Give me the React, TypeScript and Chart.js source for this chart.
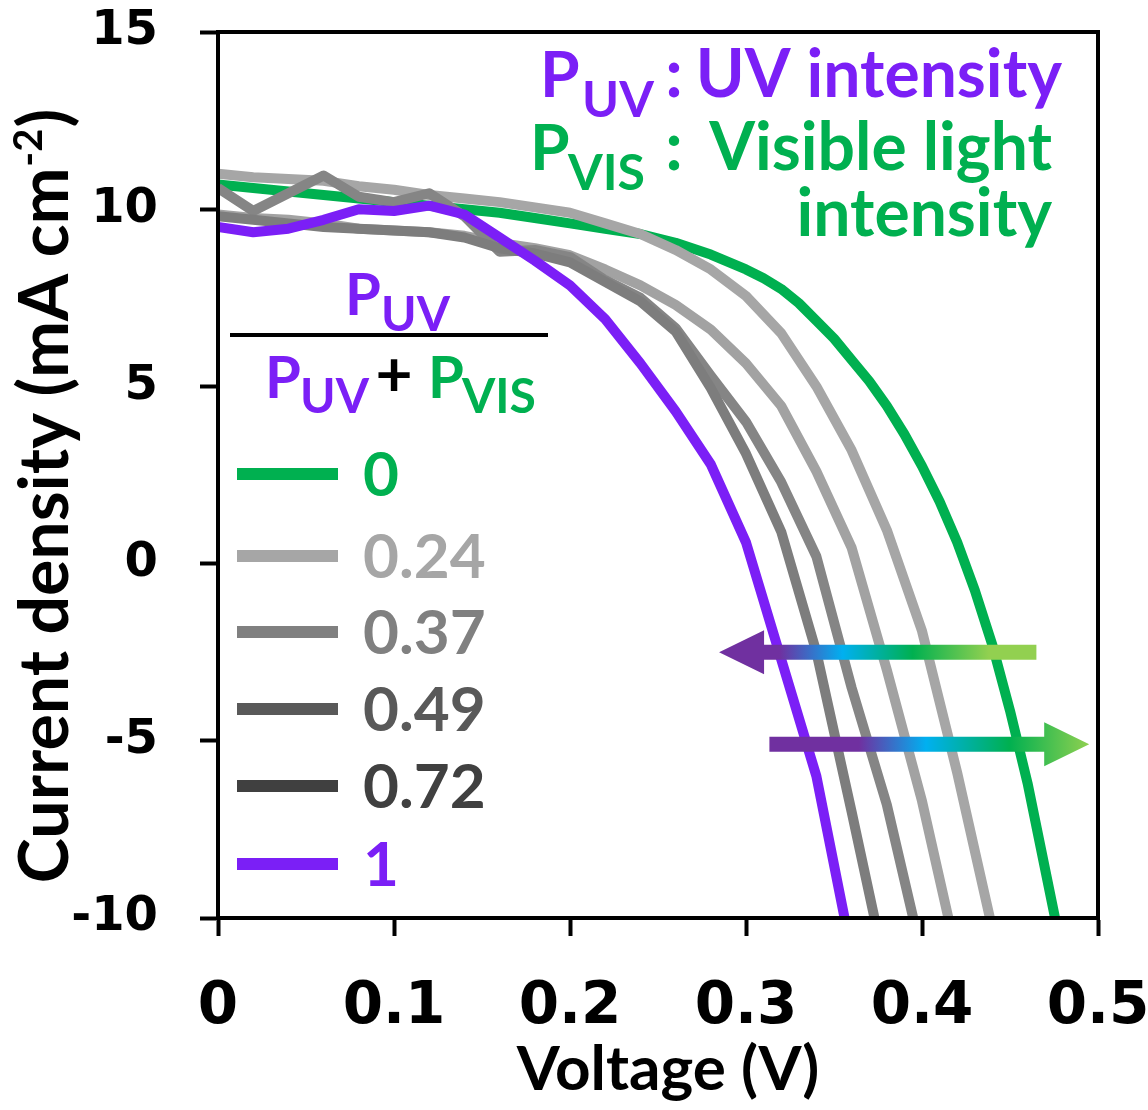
import React, { useEffect, useRef } from "react";
import { Chart, registerables } from "chart.js";

Chart.register(...registerables);

// ---- data (Voltage in V, current density in mA cm^-2) ----
const ratioLabels = ["0", "0.24", "0.37", "0.49", "0.72", "1"];

const v_0 = [0, 0.02, 0.04, 0.06, 0.08, 0.1, 0.12, 0.14, 0.16, 0.18, 0.2, 0.22, 0.24, 0.26, 0.28, 0.3, 0.31, 0.32, 0.33, 0.34, 0.35, 0.36, 0.37, 0.38, 0.39, 0.4, 0.41, 0.42, 0.43, 0.44, 0.45, 0.46, 0.4756];
const j_0 = [10.7, 10.6, 10.5, 10.4, 10.3, 10.2, 10.1, 10.0, 9.9, 9.75, 9.6, 9.45, 9.3, 9.05, 8.72, 8.3, 8.05, 7.75, 7.35, 6.85, 6.35, 5.75, 5.15, 4.45, 3.65, 2.75, 1.75, 0.6, -0.75, -2.3, -4.15, -6.2, -10];

const v_024 = [0, 0.02, 0.04, 0.06, 0.08, 0.1, 0.12, 0.14, 0.16, 0.18, 0.2, 0.22, 0.24, 0.26, 0.28, 0.3, 0.32, 0.34, 0.36, 0.38, 0.4, 0.42, 0.4386];
const j_024 = [11.0, 10.9, 10.85, 10.8, 10.65, 10.55, 10.4, 10.3, 10.2, 10.05, 9.9, 9.6, 9.3, 8.85, 8.3, 7.55, 6.5, 5.0, 3.2, 0.95, -1.9, -5.9, -10];

const v_037 = [0, 0.02, 0.04, 0.06, 0.08, 0.1, 0.12, 0.14, 0.16, 0.18, 0.2, 0.22, 0.24, 0.26, 0.28, 0.3, 0.32, 0.34, 0.36, 0.38, 0.4, 0.415];
const j_037 = [9.85, 9.75, 9.7, 9.6, 9.45, 9.4, 9.35, 9.25, 9.05, 8.9, 8.7, 8.3, 7.85, 7.3, 6.6, 5.65, 4.45, 2.6, 0.45, -3.0, -6.7, -10];

const v_049 = [0, 0.02, 0.04, 0.06, 0.08, 0.1, 0.12, 0.14, 0.16, 0.18, 0.2, 0.22, 0.24, 0.26, 0.28, 0.3, 0.32, 0.34, 0.36, 0.38, 0.395];
const j_049 = [10.6, 9.95, 10.45, 10.95, 10.35, 10.2, 10.45, 9.8, 8.8, 8.85, 8.65, 8.0, 7.5, 6.65, 5.3, 4.0, 2.3, 0.2, -3.5, -6.8, -10];

const v_072 = [0, 0.02, 0.04, 0.06, 0.08, 0.1, 0.12, 0.14, 0.16, 0.18, 0.2, 0.22, 0.24, 0.26, 0.28, 0.3, 0.32, 0.34, 0.36, 0.373];
const j_072 = [9.8, 9.7, 9.6, 9.5, 9.45, 9.4, 9.35, 9.2, 8.9, 8.75, 8.5, 7.95, 7.4, 6.55, 4.95, 3.1, 0.9, -2.5, -7.0, -10];

const v_1 = [0, 0.02, 0.04, 0.06, 0.08, 0.1, 0.12, 0.14, 0.16, 0.18, 0.2, 0.22, 0.24, 0.26, 0.28, 0.3, 0.32, 0.34, 0.356];
const j_1 = [9.5, 9.35, 9.45, 9.7, 10.0, 9.95, 10.1, 9.85, 9.2, 8.55, 7.85, 6.9, 5.65, 4.3, 2.8, 0.6, -2.7, -6.0, -10];

const xTickLabels = ["0", "0.1", "0.2", "0.3", "0.4", "0.5"];
const yTickLabels = ["-10", "-5", "0", "5", "10", "15"];

// ---- styles ----
const PURPLE = "#7b1ff6";
const GREEN = "#00b050";
const LATO = "Lato, 'Open Sans', 'DejaVu Sans', sans-serif";
const TICKFONT = "'DejaVu Sans', Verdana, sans-serif";

const lineColors = [GREEN, "#a6a6a6", "#a2a2a2", "#858585", "#7d7d7d", PURPLE];
const legendColors = [GREEN, "#a6a6a6", "#808080", "#595959", "#404040", PURPLE];

const seriesV = [v_0, v_024, v_037, v_049, v_072, v_1];
const seriesJ = [j_0, j_024, j_037, j_049, j_072, j_1];

function txt(ctx: CanvasRenderingContext2D, s: string, x: number, y: number, size: number, color: string, align: CanvasTextAlign = "left") {
  ctx.font = `bold ${size}px ${LATO}`;
  ctx.fillStyle = color;
  ctx.textAlign = align;
  ctx.textBaseline = "alphabetic";
  ctx.fillText(s, x, y);
}

function arrow(ctx: CanvasRenderingContext2D, xTip: number, xTail: number, y: number, stops: [number, string][]) {
  const shaft = 15, headLen = 45, headHalf = 22;
  const dir = xTip < xTail ? 1 : -1;
  const left = Math.min(xTip, xTail), right = Math.max(xTip, xTail);
  const g = ctx.createLinearGradient(left, 0, right, 0);
  stops.forEach(([o, c]) => g.addColorStop(o, c));
  const hb = xTip + dir * headLen;
  ctx.beginPath();
  ctx.moveTo(xTip, y);
  ctx.lineTo(hb, y - headHalf);
  ctx.lineTo(hb, y - shaft / 2);
  ctx.lineTo(xTail, y - shaft / 2);
  ctx.lineTo(xTail, y + shaft / 2);
  ctx.lineTo(hb, y + shaft / 2);
  ctx.lineTo(hb, y + headHalf);
  ctx.closePath();
  ctx.fillStyle = g;
  ctx.fill();
}

const annotPlugin = {
  id: "annot",
  afterDatasetsDraw(chart: any) {
    const ctx: CanvasRenderingContext2D = chart.ctx;
    const xs = chart.scales.x, ys = chart.scales.y;
    ctx.save();
    arrow(ctx, xs.getPixelForValue(0.2847), xs.getPixelForValue(0.465), ys.getPixelForValue(-2.5), [
      [0, "#7030a0"], [0.19, "#7030a0"], [0.39, "#00b0f0"], [0.61, "#00b050"], [0.85, "#92d050"], [1, "#92d050"],
    ]);
    arrow(ctx, xs.getPixelForValue(0.495), xs.getPixelForValue(0.3133), ys.getPixelForValue(-5.1), [
      [0, "#7030a0"], [0.28, "#7030a0"], [0.49, "#00b0f0"], [0.75, "#00b050"], [1, "#8fd050"],
    ]);
    ctx.restore();
  },
  afterDraw(chart: any) {
    const ctx: CanvasRenderingContext2D = chart.ctx;
    const a = chart.chartArea;
    ctx.save();
    ctx.strokeStyle = "#000";
    ctx.lineWidth = 4;
    ctx.strokeRect(a.left, a.top, a.right - a.left, a.bottom - a.top);

    // top-right definitions
    txt(ctx, "P", 540, 97, 64, PURPLE);
    txt(ctx, "UV", 582, 117, 50, PURPLE);
    txt(ctx, ":", 674, 97, 68, PURPLE, "center");
    txt(ctx, "UV intensity", 1062, 97, 66, PURPLE, "right");
    txt(ctx, "P", 530, 170, 64, GREEN);
    txt(ctx, "VIS", 568, 190, 50, GREEN);
    txt(ctx, ":", 674, 170, 68, GREEN, "center");
    txt(ctx, "Visible light", 1052, 170, 66, GREEN, "right");
    txt(ctx, "intensity", 1052, 236, 66, GREEN, "right");

    // fraction
    txt(ctx, "P", 345, 315, 58, PURPLE);
    txt(ctx, "UV", 381, 331, 48, PURPLE);
    ctx.fillStyle = "#000";
    ctx.fillRect(230, 333, 318, 4);
    txt(ctx, "P", 265, 398, 58, PURPLE);
    txt(ctx, "UV", 300, 413, 48, PURPLE);
    txt(ctx, "+", 394, 396, 64, "#000", "center");
    txt(ctx, "P", 428, 398, 58, GREEN);
    txt(ctx, "VIS", 462, 413, 48, GREEN);

    // legend
    const legY = [474, 556, 632, 709, 786, 864];
    ratioLabels.forEach((lab, i) => {
      ctx.strokeStyle = legendColors[i];
      ctx.lineWidth = 12;
      ctx.lineCap = "butt";
      ctx.beginPath();
      ctx.moveTo(237, legY[i]);
      ctx.lineTo(338, legY[i]);
      ctx.stroke();
      txt(ctx, lab, 363, legY[i] + 22, 62, legendColors[i]);
    });

    // y axis title with superscript
    ctx.save();
    ctx.translate(68, 496);
    ctx.rotate(-Math.PI / 2);
    ctx.font = `bold 68px ${LATO}`;
    const main = "Current density (mA cm";
    const w1 = ctx.measureText(main).width;
    const w3 = ctx.measureText(")").width;
    ctx.font = `bold 40px ${LATO}`;
    const w2 = ctx.measureText("-2").width + 2;
    const start = -(w1 + w2 + w3) / 2;
    ctx.fillStyle = "#000";
    ctx.textAlign = "left";
    ctx.textBaseline = "alphabetic";
    ctx.font = `bold 68px ${LATO}`;
    ctx.fillText(main, start, 0);
    ctx.font = `bold 40px ${LATO}`;
    ctx.fillText("-2", start + w1 + 1, -26);
    ctx.font = `bold 68px ${LATO}`;
    ctx.fillText(")", start + w1 + w2, 0);
    ctx.restore();

    txt(ctx, "Voltage (V)", 668, 1090, 62, "#000", "center");
    ctx.restore();
  },
};

export default function App() {
  const ref = useRef<HTMLCanvasElement | null>(null);
  useEffect(() => {
    if (!ref.current) return;
    const order = [5, 4, 3, 2, 1, 0]; // purple on top, green at bottom
    const datasets = order.map((i) => ({
      label: ratioLabels[i],
      data: seriesV[i].map((v, k) => ({ x: v, y: seriesJ[i][k] })),
      borderColor: lineColors[i],
      backgroundColor: lineColors[i],
      borderWidth: 10,
      pointRadius: 0,
      tension: 0,
      fill: false,
      borderJoinStyle: "round" as const,
    }));
    const chart = new Chart(ref.current, {
      type: "line",
      data: { datasets },
      plugins: [annotPlugin],
      options: {
        animation: false,
        responsive: false,
        devicePixelRatio: 1,
        layout: { padding: { left: 0, right: 50, top: 32, bottom: 0 } },
        plugins: { legend: { display: false }, tooltip: { enabled: false }, title: { display: false } },
        scales: {
          x: {
            type: "linear",
            min: 0,
            max: 0.5,
            afterFit: (s: any) => { s.height = 192; s.paddingLeft = 0; s.paddingRight = 0; },
            ticks: {
              stepSize: 0.1,
              color: "#000",
              padding: 37,
              maxRotation: 0,
              font: { family: TICKFONT, size: 58, weight: "bold" },
              callback: (_v: any, idx: number) => xTickLabels[idx],
            },
            grid: { display: true, drawOnChartArea: false, drawTicks: true, tickLength: 18, tickWidth: 4, tickColor: "#000" },
            border: { display: true, color: "#000", width: 4 },
          },
          y: {
            type: "linear",
            min: -10,
            max: 15,
            afterFit: (s: any) => { s.width = 218; s.paddingTop = 0; s.paddingBottom = 0; },
            ticks: {
              stepSize: 5,
              color: "#000",
              padding: 42,
              font: { family: TICKFONT, size: 48, weight: "bold" },
              callback: (_v: any, idx: number) => yTickLabels[idx],
            },
            grid: { display: true, drawOnChartArea: false, drawTicks: true, tickLength: 18, tickWidth: 4, tickColor: "#000" },
            border: { display: true, color: "#000", width: 4 },
          },
        },
      },
    });
    return () => chart.destroy();
  }, []);
  return (
    <div style={{ position: "absolute", left: 0, top: 0, width: 1148, height: 1110, background: "#fff" }}>
      <canvas ref={ref} width={1148} height={1110} />
    </div>
  );
}
